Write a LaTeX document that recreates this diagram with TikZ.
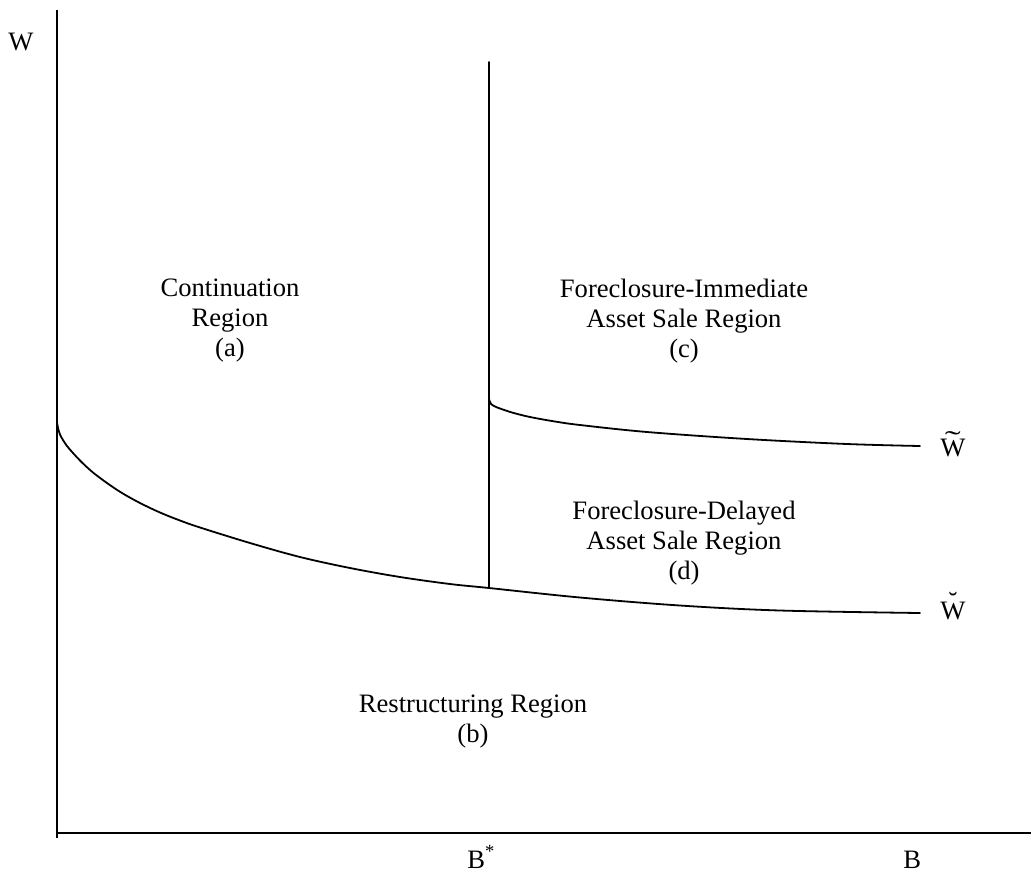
\documentclass[tikz,border=0pt]{standalone}
\usepackage{fontspec}
\usepackage{graphicx}
\setmainfont{Liberation Serif}
\newcommand{\accW}[2]{\ooalign{\hidewidth\raisebox{#2}{#1}\hidewidth\cr W\cr}}
\begin{document}
\begin{tikzpicture}[x=0.5pt,y=-0.5pt,
  lab/.style={font=\fontsize{13.3}{15}\selectfont, align=center, inner sep=0pt},
  axis/.style={line width=1pt},
  bound/.style={line width=0.9pt, line cap=round, line join=round}]
\useasboundingbox (0,0) rectangle (1031,873);
% coordinates
\coordinate (ytop) at (57,10);
\coordinate (ybot) at (57,838);
\coordinate (xl) at (57,833);
\coordinate (xr) at (1031,833);
\coordinate (vtop) at (489,62);
\coordinate (vbot) at (489,588);
% axes
\draw[axis] (ytop) -- (ybot);
\draw[axis] (xl) -- (xr);
% vertical boundary at B*
\draw[bound] (vtop) -- (vbot);
% lower curve (W breve)
\draw[bound] plot[smooth, tension=0.55] coordinates {(57,422) (58,428) (60,434.5) (63,440) (67,446) (73,453) (82,462.5) (93,472.5) (107,483) (122,493) (140,503) (160,512.5) (180,520.5) (200,527.5) (250,543) (300,557) (350,568) (400,577) (450,584) (489,588) (580,597.5) (680,605.5) (780,610.5) (920,613)};
% upper curve (W tilde)
\draw[bound] plot[smooth, tension=0.55] coordinates {(489,398) (489.5,401) (491,404) (495,406.5) (500,408.5) (512,412.5) (530,417) (555,421.5) (580,425) (647,432) (747,439) (847,444) (920,446)};
% axis labels
\node[lab, anchor=base west] (wlab) at (8,50) {W};
\node[lab, anchor=base west] (bstar) at (467,868) {B\textsuperscript{*}};
\node[lab, anchor=base west] (blab) at (903,868) {B};
% curve labels
\node[lab, anchor=base west] (wtil) at (940,456) {\accW{\scalebox{1.8}[1]{\char"02DC}}{3.5pt}};
\node[lab, anchor=base west] (wbrv) at (940,619) {\accW{\char"02D8}{4.5pt}};
% region labels
\node[lab] (ra) at (230,321) {Continuation\\Region\\(a)};
\node[lab] (rc) at (684,321) {Foreclosure-Immediate\\Asset Sale Region\\(c)};
\node[lab] (rd) at (684,543) {Foreclosure-Delayed\\Asset Sale Region\\(d)};
\node[lab] (rb) at (473,722) {Restructuring Region\\(b)};
\end{tikzpicture}
\end{document}
